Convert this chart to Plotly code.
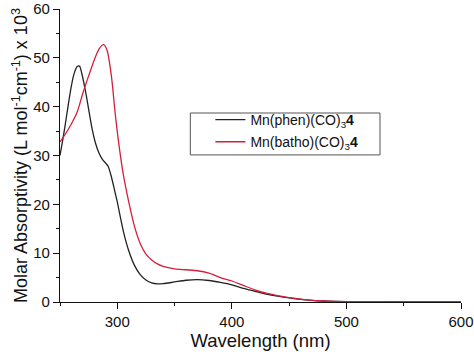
import plotly.graph_objects as go

wl_phen = [250, 253, 256, 259, 262, 265, 267, 269, 272, 275, 278, 281, 284, 287, 290, 292, 295, 298, 300, 303, 306, 310, 315, 320, 325, 330, 335, 340, 350, 360, 370, 380, 390, 400, 410, 420, 430, 440, 450, 460, 470, 480, 490, 500, 550, 600]
abs_phen = [30, 34, 38.5, 43, 46.5, 48.2, 48.3, 46.8, 43.5, 39.5, 35.5, 32.5, 30.5, 29.2, 28.4, 27.8, 25.5, 22.5, 20.5, 17, 13.8, 10.5, 7.5, 5.6, 4.5, 3.9, 3.7, 3.75, 4.1, 4.45, 4.6, 4.4, 4.0, 3.5, 2.8, 2.2, 1.6, 1.2, 0.85, 0.55, 0.35, 0.2, 0.12, 0.08, 0.03, 0.02]

wl_batho = [250, 255, 260, 265, 270, 275, 280, 284, 288, 291, 295, 298, 301, 305, 310, 315, 320, 325, 330, 335, 340, 350, 360, 370, 380, 390, 400, 410, 420, 430, 440, 450, 460, 470, 480, 490, 500, 550, 600]
abs_batho = [32.8, 34.5, 36.5, 38.9, 42.8, 46.3, 49.6, 51.8, 52.7, 51.6, 46, 39, 33, 26.5, 20.5, 15.5, 12.0, 9.8, 8.6, 7.8, 7.3, 6.8, 6.6, 6.4, 5.9, 5.0, 4.3, 3.4, 2.5, 1.8, 1.3, 0.9, 0.6, 0.35, 0.2, 0.12, 0.08, 0.04, 0.02]

names = ["Mn(phen)(CO)<sub>3</sub><b>4</b>", "Mn(batho)(CO)<sub>3</sub><b>4</b>"]

fig = go.Figure()
fig.add_trace(go.Scatter(x=wl_phen, y=abs_phen, mode="lines", name=names[0], legendgroup="a",
                         line=dict(color="#222222", width=1.3, shape="spline", smoothing=0.8)))
fig.add_trace(go.Scatter(x=wl_batho, y=abs_batho, mode="lines", name=names[1], legendgroup="b",
                         line=dict(color="#d41f3c", width=1.3, shape="spline", smoothing=0.8)))

# legend frame
fig.add_shape(type="rect", xref="paper", yref="paper", x0=0.325, x1=0.798, y0=0.502, y1=0.645,
              line=dict(color="#555555", width=1), fillcolor="rgba(0,0,0,0)", layer="below")

font = "Liberation Sans, Arial, sans-serif"
fig.update_layout(
    width=474, height=352,
    margin=dict(l=60, r=13, t=9, b=50, autoexpand=False),
    paper_bgcolor="white", plot_bgcolor="white",
    font=dict(family=font, color="#111111", size=15),
    showlegend=True,
    legend=dict(x=0.375, y=0.676, xanchor="left", yanchor="top",
                borderwidth=0, bgcolor="rgba(0,0,0,0)",
                font=dict(size=14, family=font), tracegroupgap=1,
                itemwidth=30),
    xaxis=dict(range=[250, 600], tick0=300, dtick=100, ticks="outside", ticklen=6,
               tickwidth=1.2, tickcolor="#111", showline=True, linecolor="#111", linewidth=1.2,
               showgrid=False, zeroline=False, ticklabeloverflow="allow", automargin=False,
               minor=dict(dtick=50, tick0=250, ticks="outside", ticklen=3, tickcolor="#111", showgrid=False),
               title=dict(text="Wavelength (nm)", font=dict(size=18.5), standoff=3),
               tickfont=dict(size=15)),
    yaxis=dict(range=[0, 60], tick0=0, dtick=10, ticks="outside", ticklen=6,
               tickwidth=1.2, tickcolor="#111", showline=True, linecolor="#111", linewidth=1.2,
               showgrid=False, zeroline=False, ticklabeloverflow="allow", automargin=False,
               minor=dict(dtick=5, ticks="outside", ticklen=3, tickcolor="#111", showgrid=False),
               title=dict(text="Molar Absorptivity (L mol<sup>-1</sup>cm<sup>-1</sup>) x 10<sup>3</sup>",
                          font=dict(size=18), standoff=0),
               tickfont=dict(size=15)),
)

fig.write_html("out.html")
